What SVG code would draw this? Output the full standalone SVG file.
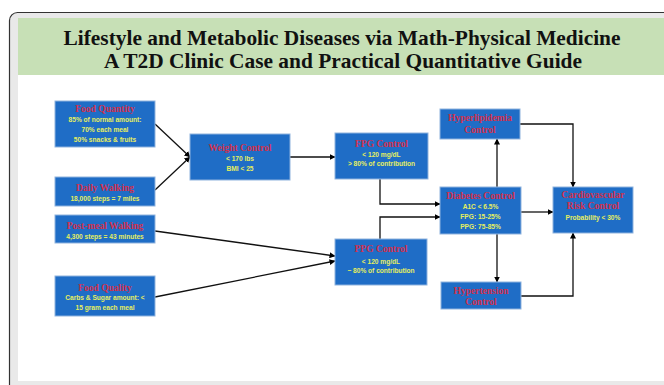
<svg xmlns="http://www.w3.org/2000/svg" width="664" height="385" viewBox="0 0 664 385">
<defs>
<marker id="ah" markerWidth="6" markerHeight="6" refX="5.5" refY="3" orient="auto" markerUnits="userSpaceOnUse">
<path d="M0,0 L6,3 L0,6 Z" fill="#000"/>
</marker>
<style>
.box{fill:#1f6dc6;stroke:#8fb3de;stroke-width:1}
.t{font-family:"Liberation Serif","Times New Roman",serif;font-weight:bold;font-size:9.5px;fill:#d2304c;text-anchor:middle}
.s{font-family:"Liberation Sans",Arial,sans-serif;font-weight:bold;font-size:6.6px;fill:#e6ef5e;text-anchor:middle}
.ttl{font-family:"Liberation Serif","Times New Roman",serif;font-weight:bold;font-size:21px;fill:#111;text-anchor:middle}
.c{fill:none;stroke:#111;stroke-width:1.3}
</style>
</defs>
<rect x="0" y="0" width="664" height="385" fill="#fff"/>
<rect x="9.5" y="12.5" width="670" height="380" rx="8" fill="#e9e9e9" stroke="#333" stroke-width="1.2"/>
<rect x="18" y="75" width="660" height="306" fill="#fff"/>
<rect x="18" y="18" width="660" height="57" fill="#c7e0b6"/>
<text class="ttl" x="342" y="45" textLength="557" lengthAdjust="spacingAndGlyphs">Lifestyle and Metabolic Diseases via Math-Physical Medicine</text>
<text class="ttl" x="343" y="68" textLength="478" lengthAdjust="spacingAndGlyphs">A T2D Clinic Case and Practical Quantitative Guide</text>

<g id="connectors">
<path class="c" d="M155,124 L190,157" marker-end="url(#ah)"/>
<path class="c" d="M155,190 L190,157" marker-end="url(#ah)"/>
<path class="c" d="M290,157 L335,157" marker-end="url(#ah)"/>
<path class="c" d="M380,179 L380,204 L440,204" marker-end="url(#ah)"/>
<path class="c" d="M380,239 L380,217 L440,217" marker-end="url(#ah)"/>
<path class="c" d="M155,231 L335,256" marker-end="url(#ah)"/>
<path class="c" d="M155,297 L335,261" marker-end="url(#ah)"/>
<path class="c" d="M497,187 L497,139" marker-end="url(#ah)"/>
<path class="c" d="M497,234 L497,282" marker-end="url(#ah)"/>
<path class="c" d="M521,212 L553,212" marker-end="url(#ah)"/>
<path class="c" d="M520,124 L573,124 L573,187" marker-end="url(#ah)"/>
<path class="c" d="M521,296 L573,296 L573,233" marker-end="url(#ah)"/>
</g>

<g id="food-quantity">
<rect class="box" x="55" y="101" width="100" height="46"/>
<text class="t" x="105" y="112">Food Quantity</text>
<text class="s" x="105" y="121.5">85% of normal amount:</text>
<text class="s" x="105" y="131.5">70% each meal</text>
<text class="s" x="105" y="141.5">50% snacks &amp; fruits</text>
</g>
<g id="daily-walking">
<rect class="box" x="55" y="177" width="100" height="29"/>
<text class="t" x="105" y="191">Daily Walking</text>
<text class="s" x="105" y="200.5">18,000 steps = 7 miles</text>
</g>
<g id="post-meal-walking">
<rect class="box" x="55" y="215" width="100" height="28"/>
<text class="t" x="105" y="229">Post-meal Walking</text>
<text class="s" x="105" y="238.5">4,300 steps = 43 minutes</text>
</g>
<g id="food-quality">
<rect class="box" x="55" y="276" width="100" height="40"/>
<text class="t" x="105" y="291">Food Quality</text>
<text class="s" x="105" y="299.5">Carbs &amp; Sugar amount:  &lt;</text>
<text class="s" x="105" y="309.5">15 gram each meal</text>
</g>
<g id="weight-control">
<rect class="box" x="190" y="134" width="100" height="46"/>
<text class="t" x="240" y="151">Weight Control</text>
<text class="s" x="240" y="160.5">&lt; 170 lbs</text>
<text class="s" x="240" y="170.5">BMI &lt; 25</text>
</g>
<g id="fpg-control">
<rect class="box" x="335" y="133" width="93" height="46"/>
<text class="t" x="381.5" y="147">FPG Control</text>
<text class="s" x="381.5" y="156.5">&lt; 120 mg/dL</text>
<text class="s" x="381.5" y="165.5">&gt; 80% of contribution</text>
</g>
<g id="ppg-control">
<rect class="box" x="335" y="239" width="92" height="46"/>
<text class="t" x="381" y="252">PPG Control</text>
<text class="s" x="381" y="263.5">&lt; 120 mg/dL</text>
<text class="s" x="381" y="272.5">~ 80% of contribution</text>
</g>
<g id="hyperlipidemia-control">
<rect class="box" x="440" y="109" width="80" height="30"/>
<text class="t" x="480" y="121">Hyperlipidemia</text>
<text class="t" x="480" y="133">Control</text>
</g>
<g id="diabetes-control">
<rect class="box" x="440" y="187" width="81" height="47"/>
<text class="t" x="480.5" y="199">Diabetes Control</text>
<text class="s" x="480.5" y="208.5">A1C &lt; 6.5%</text>
<text class="s" x="480.5" y="218.5">FPG:  15-25%</text>
<text class="s" x="480.5" y="228.5">PPG:  75-85%</text>
</g>
<g id="hypertension-control">
<rect class="box" x="441" y="282" width="80" height="27"/>
<text class="t" x="481" y="294">Hypertension</text>
<text class="t" x="481" y="305">Control</text>
</g>
<g id="cardiovascular-risk-control">
<rect class="box" x="553" y="187" width="80" height="46"/>
<text class="t" x="593" y="198">Cardiovascular</text>
<text class="t" x="593" y="209">Risk Control</text>
<text class="s" x="593" y="219.5">Probability &lt; 30%</text>
</g>
</svg>
